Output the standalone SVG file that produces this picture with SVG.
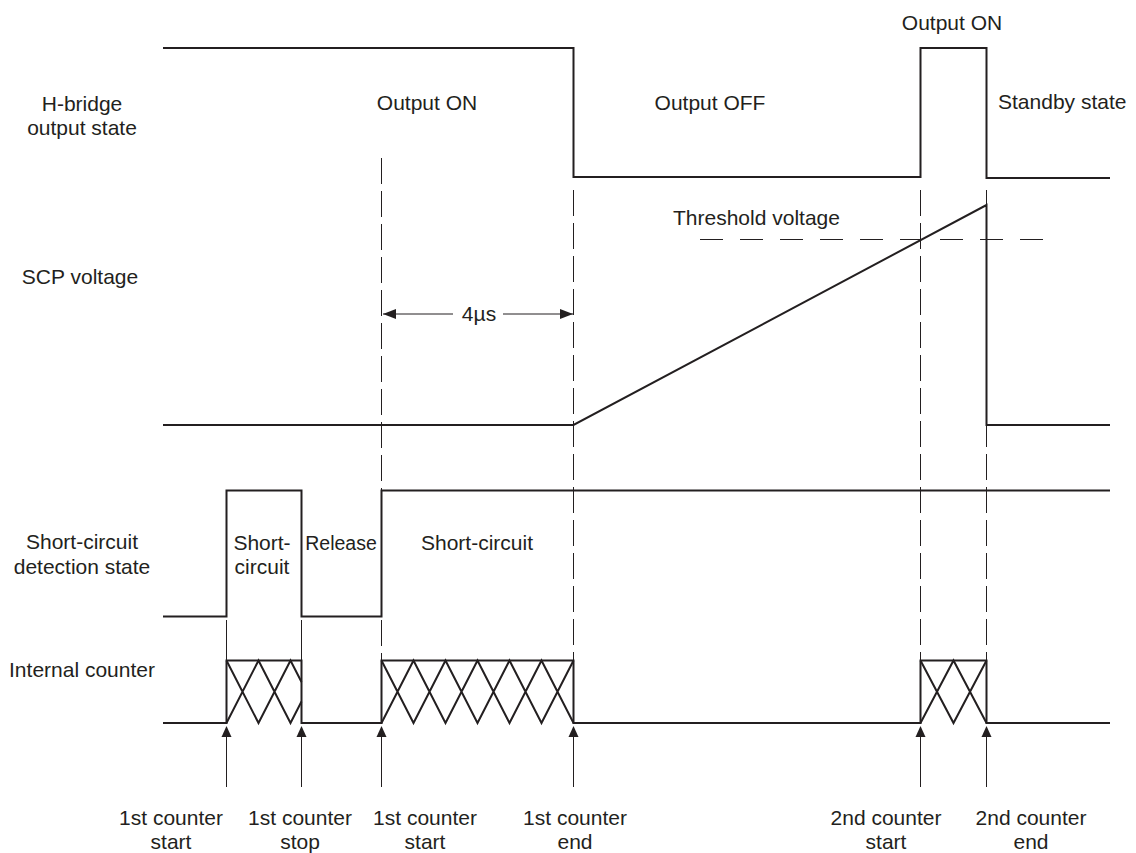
<svg xmlns="http://www.w3.org/2000/svg" width="1136" height="853" viewBox="0 0 1136 853">
<defs>
<style>
.sig{fill:none;stroke:#231f20;stroke-width:2;stroke-linejoin:miter}
.hatch{fill:none;stroke:#231f20;stroke-width:2;stroke-linejoin:miter}
.dash{fill:none;stroke:#231f20;stroke-width:1;stroke-dasharray:26 7}
.thr{fill:none;stroke:#231f20;stroke-width:1;stroke-dasharray:23 17}
.thin{fill:none;stroke:#231f20;stroke-width:1}
.ah{fill:#231f20;stroke:none}
text{font-family:"Liberation Sans",Arial,sans-serif;font-size:21px;fill:#231f20}
.m{text-anchor:middle}
</style>
<marker id="arr" viewBox="0 0 13 10" refX="13" refY="5" markerWidth="13" markerHeight="10" markerUnits="userSpaceOnUse" orient="auto">
<path d="M0,0 L13,5 L0,10 Z" class="ah"/>
</marker>
</defs>
<rect width="1136" height="853" fill="#ffffff"/>

<g id="labels-left">
<text class="m" x="82" y="111">H-bridge</text>
<text class="m" x="82" y="135">output state</text>
<text class="m" x="80" y="284">SCP voltage</text>
<text class="m" x="82" y="549">Short-circuit</text>
<text class="m" x="82" y="574">detection state</text>
<text class="m" x="82" y="677">Internal counter</text>
</g>

<g id="connectors">
<line class="dash" x1="381.5" y1="158" x2="381.5" y2="660"/>
<line class="dash" x1="573.5" y1="190" x2="573.5" y2="660"/>
<line class="dash" x1="920.5" y1="190" x2="920.5" y2="660"/>
<line class="dash" x1="986.5" y1="190" x2="986.5" y2="660"/>
<line class="thin" x1="226.5" y1="620" x2="226.5" y2="660"/>
<line class="thin" x1="301.5" y1="620" x2="301.5" y2="660"/>
<line class="thr" x1="700" y1="239.5" x2="1047" y2="239.5"/>
<line class="thin" x1="453" y1="314" x2="383" y2="314" marker-end="url(#arr)"/>
<line class="thin" x1="503" y1="314" x2="573" y2="314" marker-end="url(#arr)"/>
<g id="event-arrows">
<line class="thin" x1="226.5" y1="736" x2="226.5" y2="787"/>
<path class="ah" d="M226.5,726 L231.5,737 L221.5,737 Z"/>
<line class="thin" x1="301.5" y1="736" x2="301.5" y2="787"/>
<path class="ah" d="M301.5,726 L306.5,737 L296.5,737 Z"/>
<line class="thin" x1="381.5" y1="736" x2="381.5" y2="787"/>
<path class="ah" d="M381.5,726 L386.5,737 L376.5,737 Z"/>
<line class="thin" x1="573.5" y1="736" x2="573.5" y2="787"/>
<path class="ah" d="M573.5,726 L578.5,737 L568.5,737 Z"/>
<line class="thin" x1="920.5" y1="736" x2="920.5" y2="787"/>
<path class="ah" d="M920.5,726 L925.5,737 L915.5,737 Z"/>
<line class="thin" x1="986.5" y1="736" x2="986.5" y2="787"/>
<path class="ah" d="M986.5,726 L991.5,737 L981.5,737 Z"/>
</g>
</g>

<g id="hbridge-signal">
<path class="sig" d="M163,48 H573.5 V177 H920.5 V48 H986.5 V178 H1110"/>
<text class="m" x="427" y="110">Output ON</text>
<text class="m" x="710" y="110">Output OFF</text>
<text class="m" x="952" y="30">Output ON</text>
<text x="998" y="109">Standby state</text>
</g>

<g id="scp-signal">
<path class="sig" d="M163,425 H573.5 L986.5,205 V425 H1110"/>
<text x="673" y="225">Threshold voltage</text>
<text class="m" x="479" y="321">4µs</text>
</g>

<g id="short-circuit-signal">
<path class="sig" d="M163,616.5 H226.5 V490.5 H301.5 V616.5 H381.5 V490.5 H1110"/>
<text class="m" x="262" y="550">Short-</text>
<text class="m" x="262" y="574">circuit</text>
<text class="m" x="341" y="550" style="font-size:19.5px">Release</text>
<text class="m" x="477" y="550">Short-circuit</text>
</g>

<g id="counter-signal">
<path class="sig" d="M163,723 H226.5 V660.5 H301.5 V723 H381.5 V660.5 H573.5 V723 H920.5 V660.5 H986.5 V723 H1110"/>
<path class="hatch" d="M226.5,723 L258.5,660.5 L290.5,723 L301.5,701.5 M226.5,660.5 L258.5,723 L290.5,660.5 L301.5,682"/>
<path class="hatch" d="M381.5,723 L413.5,660.5 L445.5,723 L477.5,660.5 L509.5,723 L541.5,660.5 L573.5,723 M381.5,660.5 L413.5,723 L445.5,660.5 L477.5,723 L509.5,660.5 L541.5,723 L573.5,660.5"/>
<path class="hatch" d="M920.5,723 L953.5,660.5 L986.5,723 M920.5,660.5 L953.5,723 L986.5,660.5"/>
</g>

<g id="labels-bottom">
<text class="m" x="171" y="825">1st counter</text>
<text class="m" x="171" y="849">start</text>
<text class="m" x="300" y="825">1st counter</text>
<text class="m" x="300" y="849">stop</text>
<text class="m" x="425" y="825">1st counter</text>
<text class="m" x="425" y="849">start</text>
<text class="m" x="575" y="825">1st counter</text>
<text class="m" x="575" y="849">end</text>
<text class="m" x="886" y="825">2nd counter</text>
<text class="m" x="886" y="849">start</text>
<text class="m" x="1031" y="825">2nd counter</text>
<text class="m" x="1031" y="849">end</text>
</g>
</svg>
